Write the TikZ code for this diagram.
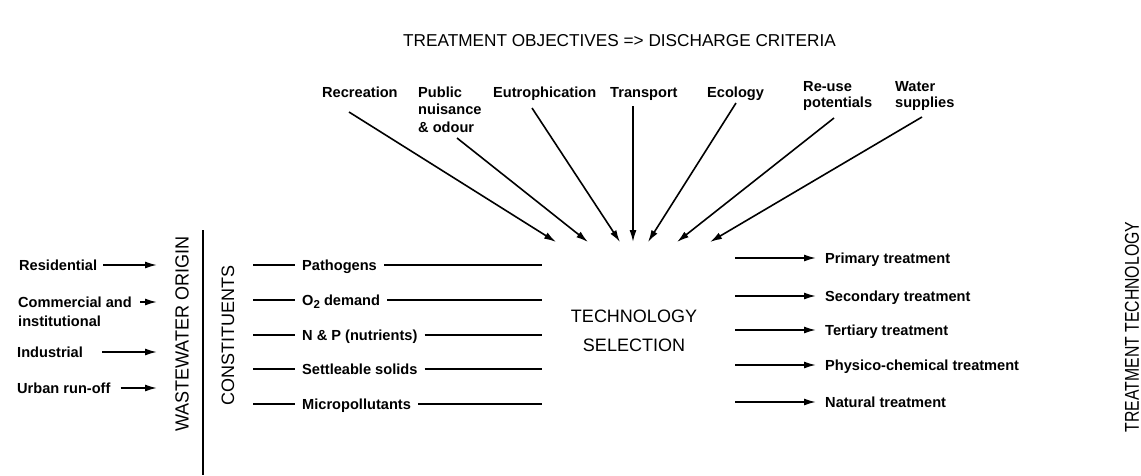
\documentclass[tikz,border=0pt]{standalone}
\usepackage{fontspec}
\setmainfont{Liberation Sans}
\usetikzlibrary{arrows.meta}
\newcommand{\labfont}[1]{\bfseries\fontsize{14.6}{#1}\selectfont}
\begin{document}
\begin{tikzpicture}[x=1pt,y=-1pt,
  conn/.style={line width=1.6pt},
  arr/.style={conn,-{Latex[length=12pt,width=7pt]}},
  lbl/.style={inner sep=0pt, font=\labfont{17.5}, text height=10pt, text depth=0pt},
  mlbl/.style={inner sep=0pt, align=left, anchor=north west},
  heading/.style={inner sep=0pt},
  vhead/.style={inner sep=0pt, rotate=90}
]
\useasboundingbox (0,0) rectangle (1141,475);

% ---- heading ----
\node[heading, anchor=base west, font=\fontsize{17.2}{20}\selectfont] (title) at (403,46)
  {TREATMENT OBJECTIVES => DISCHARGE CRITERIA};

% ---- treatment objectives ----
\node[lbl, anchor=west] (rec) at (322,92) {Recreation};
\node[mlbl, font=\labfont{17.5}] (pub) at (418,86.6) {Public\\nuisance\\\& odour};
\node[lbl, anchor=west] (eut) at (493,92) {Eutrophication};
\node[lbl, anchor=west] (tra) at (610,92) {Transport};
\node[lbl, anchor=west] (eco) at (707,92) {Ecology};
\node[mlbl, font=\labfont{16}] (reu) at (803,81.6) {Re-use\\potentials};
\node[mlbl, font=\labfont{16}] (wat) at (895,81.6) {Water\\supplies};

% ---- technology selection ----
\node[inner sep=0pt, align=center, font=\fontsize{18}{29}\selectfont] (sel) at (634,330.5)
  {TECHNOLOGY\\SELECTION};

% arrow ends around the selection
\coordinate (recS) at (349,112);  \coordinate (recT) at (556,242);
\coordinate (pubS) at (457,138);  \coordinate (pubT) at (588,242);
\coordinate (eutS) at (532,108);  \coordinate (eutT) at (620,242);
\coordinate (traS) at (633,106);  \coordinate (traT) at (633,242);
\coordinate (ecoS) at (736,103);  \coordinate (ecoT) at (648,242);
\coordinate (reuS) at (834,118);  \coordinate (reuT) at (677,242);
\coordinate (watS) at (922,117);  \coordinate (watT) at (710,242);
\foreach \o in {rec,pub,eut,tra,eco,reu,wat}
  \draw[arr] (\o S) -- (\o T);

% ---- wastewater origin ----
\node[lbl, anchor=west] (res) at (19,265) {Residential};
\node[mlbl, font=\labfont{19}] (com) at (18,296.6) {Commercial and\\institutional};
\node[lbl, anchor=west] (ind) at (17,352) {Industrial};
\node[lbl, anchor=west] (urb) at (17,388) {Urban run-off};

\coordinate (wo) at (157,0);
\coordinate (comS) at (140,302);
\draw[arr, shorten <=6pt] (res.east) -- (res.east -| wo);
\draw[arr] (comS) -- (comS -| wo);
\draw[arr, shorten <=19pt] (ind.east) -- (ind.east -| wo);
\draw[arr, shorten <=10pt] (urb.east) -- (urb.east -| wo);

\coordinate (barT) at (203,230);
\coordinate (barB) at (203,475);
\draw[conn] (barT) -- (barB);

\node[vhead, font=\fontsize{19}{19}\selectfont] (wwo) at (182,334)
  {\scalebox{0.95}[1]{WASTEWATER ORIGIN}};
\node[vhead, font=\fontsize{18}{18}\selectfont] (cons) at (228,335) {CONSTITUENTS};

% ---- constituents ----
\node[lbl, anchor=west] (pat) at (302,265) {Pathogens};
\node[lbl, anchor=west] (oxy) at (302,300)
  {O\raisebox{-3.5pt}{\fontsize{11.5}{11.5}\selectfont 2} demand};
\node[lbl, anchor=west] (nup) at (302,335) {N \& P (nutrients)};
\node[lbl, anchor=west] (set) at (302,369) {Settleable solids};
\node[lbl, anchor=west] (mic) at (302,404) {Micropollutants};

\coordinate (cl) at (253,0);
\coordinate (cr) at (542,0);
\foreach \c in {pat,oxy,nup,set,mic} {
  \draw[conn, shorten >=7pt] (\c.west -| cl) -- (\c.west);
  \draw[conn, shorten <=7pt] (\c.east) -- (\c.east -| cr);
}

% ---- treatment technology ----
\node[lbl, anchor=west] (pri) at (825,258) {Primary treatment};
\node[lbl, anchor=west] (sec) at (825,296) {Secondary treatment};
\node[lbl, anchor=west] (ter) at (825,330) {Tertiary treatment};
\node[lbl, anchor=west] (phy) at (825,365) {Physico-chemical treatment};
\node[lbl, anchor=west] (nat) at (825,402) {Natural treatment};

\coordinate (ts) at (735,0);
\foreach \t in {pri,sec,ter,phy,nat}
  \draw[arr, shorten >=9pt] (\t.west -| ts) -- (\t.west);

\node[vhead, font=\fontsize{20}{20}\selectfont] (tt) at (1132,327)
  {\scalebox{0.79}[1]{TREATMENT TECHNOLOGY}};
\end{tikzpicture}
\end{document}
